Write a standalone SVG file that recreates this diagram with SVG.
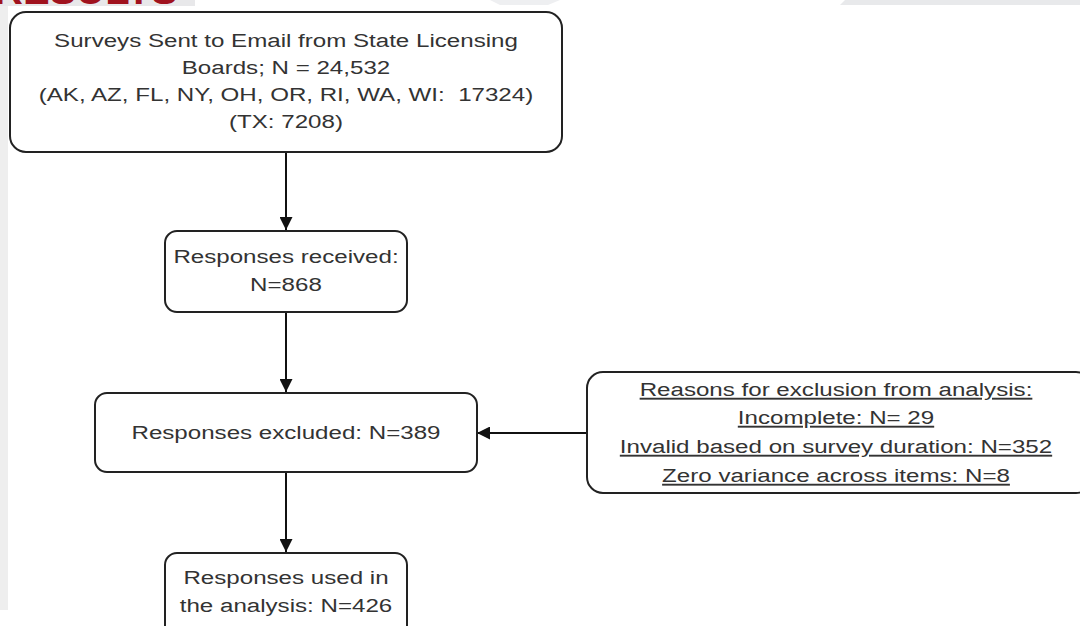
<svg xmlns="http://www.w3.org/2000/svg" width="1080" height="626" viewBox="0 0 1080 626">
<defs>
<style>
.box{fill:#fff;stroke:#222;stroke-width:2}
.t{font-family:"Liberation Sans",Arial,sans-serif;font-size:19px;fill:#333;text-anchor:middle}
.u{text-decoration:underline}
.c{stroke:#111;stroke-width:2;fill:none}
</style>
<marker id="ah" viewBox="0 0 10 10" refX="10" refY="5" markerWidth="13" markerHeight="13" markerUnits="userSpaceOnUse" orient="auto">
<path d="M0,0 L10,5 L0,10 z" fill="#111"/>
</marker>
</defs>
<rect width="1080" height="626" fill="#fff"/>
<g id="background">
<rect x="0" y="0" width="8" height="610" fill="#eeeeee"/>
<rect x="0" y="0" width="195" height="6" fill="#e8e8ea"/>
<path d="M845,0 L1080,0 L1080,5 L840,5 Z" fill="#e8e9eb"/>
<path d="M490,0 L560,0 L548,5 L500,5 Z" fill="#eeeff1"/>
<text x="-6" y="4" font-family="'Liberation Sans',Arial,sans-serif" font-weight="bold" font-size="40" fill="#a0121e">RESULTS</text>
</g>
<g id="connectors">
<line class="c" x1="286" y1="152" x2="286" y2="230" marker-end="url(#ah)"/>
<line class="c" x1="286" y1="312" x2="286" y2="392" marker-end="url(#ah)"/>
<line class="c" x1="286" y1="472" x2="286" y2="552" marker-end="url(#ah)"/>
<line class="c" x1="587" y1="433" x2="477" y2="433" marker-end="url(#ah)"/>
</g>
<g id="n1">
<rect class="box" x="10" y="12" width="552" height="140" rx="16"/>
<g transform="translate(286,0) scale(1.27,1) translate(-286,0)">
<text class="t" x="286" y="47">Surveys Sent to Email from State Licensing</text>
<text class="t" x="286" y="74">Boards; N = 24,532</text>
<text class="t" x="286" y="101" xml:space="preserve">(AK, AZ, FL, NY, OH, OR, RI, WA, WI:  17324)</text>
<text class="t" x="286" y="128">(TX: 7208)</text>
</g>
</g>
<g id="n2">
<rect class="box" x="165" y="231" width="242" height="81" rx="12"/>
<g transform="translate(286,0) scale(1.27,1) translate(-286,0)">
<text class="t" x="286" y="263">Responses received:</text>
<text class="t" x="286" y="291">N=868</text>
</g>
</g>
<g id="n3">
<rect class="box" x="95" y="393" width="382" height="79" rx="12"/>
<g transform="translate(286,0) scale(1.27,1) translate(-286,0)">
<text class="t" x="286" y="439">Responses excluded: N=389</text>
</g>
</g>
<g id="n4">
<rect class="box" x="165" y="553" width="242" height="90" rx="12"/>
<g transform="translate(286,0) scale(1.27,1) translate(-286,0)">
<text class="t" x="286" y="584">Responses used in</text>
<text class="t" x="286" y="612">the analysis: N=426</text>
</g>
</g>
<g id="n5">
<rect class="box" x="587" y="372" width="505" height="121" rx="16"/>
<g transform="translate(836,0) scale(1.27,1) translate(-836,0)">
<text class="t u" x="836" y="396">Reasons for exclusion from analysis:</text>
<text class="t u" x="836" y="424">Incomplete: N= 29</text>
<text class="t u" x="836" y="453">Invalid based on survey duration: N=352</text>
<text class="t u" x="836" y="482">Zero variance across items: N=8</text>
</g>
</g>
</svg>
